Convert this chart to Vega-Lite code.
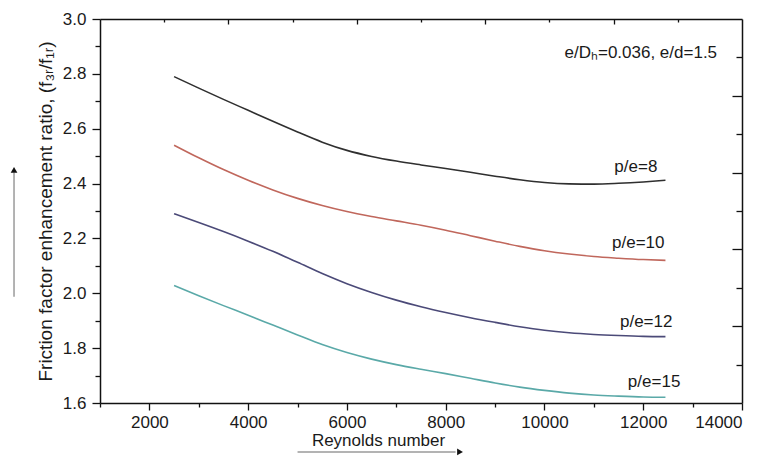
{
  "$schema": "https://vega.github.io/schema/vega-lite/v6.json",
  "width": 642,
  "height": 384,
  "autosize": "none",
  "padding": {"left": 100, "top": 19, "right": 24, "bottom": 54},
  "background": "white",
  "config": {
    "view": {"stroke": null},
    "font": "Liberation Sans",
    "axis": {
      "grid": false,
      "domainColor": "#111",
      "domainWidth": 1.5,
      "tickColor": "#111",
      "tickWidth": 1.3,
      "labelFont": "Liberation Sans",
      "labelFontSize": 17,
      "labelColor": "#1a1a1a",
      "titleFont": "Liberation Sans",
      "titleFontSize": 17,
      "titleFontWeight": "normal",
      "titleColor": "#1a1a1a"
    }
  },
  "datasets": {
    "curves": [
      {"Re": 2500, "v": 2.79, "pe": "p/e=8"},
      {"Re": 3000, "v": 2.748, "pe": "p/e=8"},
      {"Re": 3500, "v": 2.707, "pe": "p/e=8"},
      {"Re": 4000, "v": 2.667, "pe": "p/e=8"},
      {"Re": 4500, "v": 2.627, "pe": "p/e=8"},
      {"Re": 5000, "v": 2.588, "pe": "p/e=8"},
      {"Re": 5500, "v": 2.551, "pe": "p/e=8"},
      {"Re": 6000, "v": 2.521, "pe": "p/e=8"},
      {"Re": 6500, "v": 2.499, "pe": "p/e=8"},
      {"Re": 7000, "v": 2.482, "pe": "p/e=8"},
      {"Re": 7500, "v": 2.468, "pe": "p/e=8"},
      {"Re": 8000, "v": 2.455, "pe": "p/e=8"},
      {"Re": 8500, "v": 2.441, "pe": "p/e=8"},
      {"Re": 9000, "v": 2.427, "pe": "p/e=8"},
      {"Re": 9500, "v": 2.414, "pe": "p/e=8"},
      {"Re": 10000, "v": 2.404, "pe": "p/e=8"},
      {"Re": 10500, "v": 2.399, "pe": "p/e=8"},
      {"Re": 11000, "v": 2.398, "pe": "p/e=8"},
      {"Re": 11500, "v": 2.401, "pe": "p/e=8"},
      {"Re": 12000, "v": 2.406, "pe": "p/e=8"},
      {"Re": 12450, "v": 2.412, "pe": "p/e=8"},
      {"Re": 2500, "v": 2.54, "pe": "p/e=10"},
      {"Re": 3000, "v": 2.494, "pe": "p/e=10"},
      {"Re": 3500, "v": 2.451, "pe": "p/e=10"},
      {"Re": 4000, "v": 2.412, "pe": "p/e=10"},
      {"Re": 4500, "v": 2.377, "pe": "p/e=10"},
      {"Re": 5000, "v": 2.346, "pe": "p/e=10"},
      {"Re": 5500, "v": 2.32, "pe": "p/e=10"},
      {"Re": 6000, "v": 2.298, "pe": "p/e=10"},
      {"Re": 6500, "v": 2.28, "pe": "p/e=10"},
      {"Re": 7000, "v": 2.264, "pe": "p/e=10"},
      {"Re": 7500, "v": 2.248, "pe": "p/e=10"},
      {"Re": 8000, "v": 2.23, "pe": "p/e=10"},
      {"Re": 8500, "v": 2.21, "pe": "p/e=10"},
      {"Re": 9000, "v": 2.19, "pe": "p/e=10"},
      {"Re": 9500, "v": 2.171, "pe": "p/e=10"},
      {"Re": 10000, "v": 2.155, "pe": "p/e=10"},
      {"Re": 10500, "v": 2.143, "pe": "p/e=10"},
      {"Re": 11000, "v": 2.134, "pe": "p/e=10"},
      {"Re": 11500, "v": 2.128, "pe": "p/e=10"},
      {"Re": 12000, "v": 2.123, "pe": "p/e=10"},
      {"Re": 12450, "v": 2.12, "pe": "p/e=10"},
      {"Re": 2500, "v": 2.29, "pe": "p/e=12"},
      {"Re": 3000, "v": 2.258, "pe": "p/e=12"},
      {"Re": 3500, "v": 2.225, "pe": "p/e=12"},
      {"Re": 4000, "v": 2.19, "pe": "p/e=12"},
      {"Re": 4500, "v": 2.153, "pe": "p/e=12"},
      {"Re": 5000, "v": 2.113, "pe": "p/e=12"},
      {"Re": 5500, "v": 2.072, "pe": "p/e=12"},
      {"Re": 6000, "v": 2.035, "pe": "p/e=12"},
      {"Re": 6500, "v": 2.003, "pe": "p/e=12"},
      {"Re": 7000, "v": 1.975, "pe": "p/e=12"},
      {"Re": 7500, "v": 1.951, "pe": "p/e=12"},
      {"Re": 8000, "v": 1.93, "pe": "p/e=12"},
      {"Re": 8500, "v": 1.911, "pe": "p/e=12"},
      {"Re": 9000, "v": 1.894, "pe": "p/e=12"},
      {"Re": 9500, "v": 1.878, "pe": "p/e=12"},
      {"Re": 10000, "v": 1.865, "pe": "p/e=12"},
      {"Re": 10500, "v": 1.856, "pe": "p/e=12"},
      {"Re": 11000, "v": 1.85, "pe": "p/e=12"},
      {"Re": 11500, "v": 1.846, "pe": "p/e=12"},
      {"Re": 12000, "v": 1.843, "pe": "p/e=12"},
      {"Re": 12450, "v": 1.842, "pe": "p/e=12"},
      {"Re": 2500, "v": 2.028, "pe": "p/e=15"},
      {"Re": 3000, "v": 1.991, "pe": "p/e=15"},
      {"Re": 3500, "v": 1.955, "pe": "p/e=15"},
      {"Re": 4000, "v": 1.92, "pe": "p/e=15"},
      {"Re": 4500, "v": 1.884, "pe": "p/e=15"},
      {"Re": 5000, "v": 1.848, "pe": "p/e=15"},
      {"Re": 5500, "v": 1.813, "pe": "p/e=15"},
      {"Re": 6000, "v": 1.784, "pe": "p/e=15"},
      {"Re": 6500, "v": 1.76, "pe": "p/e=15"},
      {"Re": 7000, "v": 1.74, "pe": "p/e=15"},
      {"Re": 7500, "v": 1.723, "pe": "p/e=15"},
      {"Re": 8000, "v": 1.707, "pe": "p/e=15"},
      {"Re": 8500, "v": 1.69, "pe": "p/e=15"},
      {"Re": 9000, "v": 1.673, "pe": "p/e=15"},
      {"Re": 9500, "v": 1.658, "pe": "p/e=15"},
      {"Re": 10000, "v": 1.646, "pe": "p/e=15"},
      {"Re": 10500, "v": 1.636, "pe": "p/e=15"},
      {"Re": 11000, "v": 1.629, "pe": "p/e=15"},
      {"Re": 11500, "v": 1.625, "pe": "p/e=15"},
      {"Re": 12000, "v": 1.622, "pe": "p/e=15"},
      {"Re": 12450, "v": 1.621, "pe": "p/e=15"}
    ],
    "labels": [
      {"Re": 11850, "v": 2.46, "label": "p/e=8"},
      {"Re": 11900, "v": 2.184, "label": "p/e=10"},
      {"Re": 12060, "v": 1.896, "label": "p/e=12"},
      {"Re": 12220, "v": 1.678, "label": "p/e=15"}
    ],
    "note": [
      {"Re": 13495, "v": 2.876, "label": "e/Dₕ=0.036, e/d=1.5"}
    ],
    "arrows": [
      {"Re": 5000, "Re2": 8200, "v": 1.4215, "v2": 1.4215},
      {"Re": -741, "Re2": -741, "v": 1.987, "v2": 2.44}
    ],
    "heads": [
      {"Re": 8290, "v": 1.4215, "dir": "right"},
      {"Re": -741, "v": 2.45, "dir": "up"}
    ],
    "frame": [{"t": 0}, {"t": 10}]
  },
  "layer": [
    {
      "encoding": {
        "x": {
          "field": "Re", "type": "quantitative",
          "scale": {"domain": [1000, 14000], "nice": false, "zero": false},
          "axis": {
            "values": [1000, 2000, 3000, 4000, 5000, 6000, 7000, 8000, 9000, 10000, 11000, 12000, 13000, 14000],
            "format": "d",
            "labelExpr": "datum.value % 2000 === 0 ? datum.label : ''",
            "tickSize": {"condition": {"test": "datum.value % 2000 === 0", "value": 7}, "value": 4},
            "labelPadding": 4,
            "title": "Reynolds number",
            "titleX": 278,
            "titleAlign": "center",
            "titlePadding": 2
          }
        },
        "y": {
          "field": "v", "type": "quantitative",
          "scale": {"domain": [1.6, 3.0], "nice": false, "zero": false},
          "axis": {
            "values": [1.6, 1.7, 1.8, 1.9, 2.0, 2.1, 2.2, 2.3, 2.4, 2.5, 2.6, 2.7, 2.8, 2.9, 3.0],
            "labelExpr": "round(datum.value * 10) % 2 === 0 ? format(datum.value, '.1f') : ''",
            "tickSize": {"condition": {"test": "round(datum.value * 10) % 2 === 0", "value": 8}, "value": 5},
            "labelPadding": 6,
            "title": "Friction factor enhancement ratio, (f₃ᵣ/f₁ᵣ)",
            "titleFontSize": 19,
            "titlePadding": 7
          }
        }
      },
      "layer": [
        {
          "data": {"name": "curves"},
          "mark": {"type": "line", "strokeWidth": 1.6, "interpolate": "monotone"},
          "encoding": {
            "color": {
              "field": "pe", "type": "nominal",
              "scale": {"domain": ["p/e=8", "p/e=10", "p/e=12", "p/e=15"], "range": ["#2f2f2f", "#c0675c", "#4b4a78", "#5aa9a8"]},
              "legend": null
            }
          }
        },
        {
          "data": {"name": "labels"},
          "mark": {"type": "text", "fontSize": 17, "color": "#1a1a1a", "align": "center", "baseline": "middle"},
          "encoding": {"text": {"field": "label"}}
        },
        {
          "data": {"name": "note"},
          "mark": {"type": "text", "fontSize": 17, "color": "#1a1a1a", "align": "right", "baseline": "middle"},
          "encoding": {"text": {"field": "label"}}
        },
        {
          "data": {"name": "arrows"},
          "mark": {"type": "rule", "color": "#9a9a9a", "strokeWidth": 1.5},
          "encoding": {
            "x2": {"field": "Re2"},
            "y2": {"field": "v2"}
          }
        },
        {
          "data": {"name": "heads"},
          "mark": {"type": "point", "filled": true, "color": "#111", "size": 45, "opacity": 1},
          "encoding": {
            "shape": {
              "field": "dir", "type": "nominal",
              "scale": {"domain": ["right", "up"], "range": ["triangle-right", "triangle-up"]},
              "legend": null
            }
          }
        }
      ]
    },
    {
      "data": {"name": "frame"},
      "mark": {"type": "point", "opacity": 0},
      "encoding": {
        "x": {
          "field": "t", "type": "quantitative",
          "scale": {"domain": [0, 10], "nice": false, "zero": false},
          "axis": {
            "orient": "top",
            "values": [1, 2, 3, 4, 5, 6, 7, 8, 9],
            "labels": false,
            "title": null,
            "tickSize": {"condition": {"test": "datum.value % 2 === 0", "value": -5}, "value": -3}
          }
        },
        "y": {
          "field": "t", "type": "quantitative",
          "scale": {"domain": [0, 10], "nice": false, "zero": false},
          "axis": {
            "orient": "right",
            "values": [1, 2, 3, 4, 5, 6, 7, 8, 9],
            "labels": false,
            "title": null,
            "tickSize": {"condition": {"test": "datum.value % 2 === 0", "value": -10}, "value": -6}
          }
        }
      }
    }
  ],
  "resolve": {"scale": {"x": "independent", "y": "independent"}}
}
